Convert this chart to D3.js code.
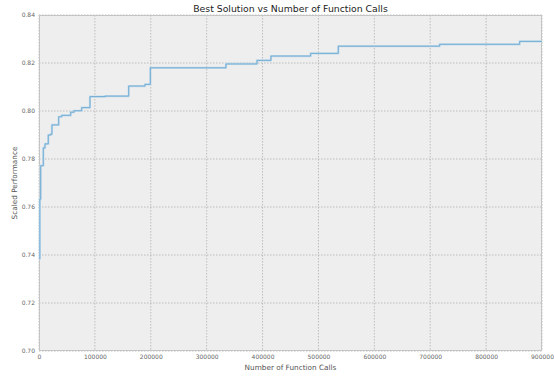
<!DOCTYPE html>
<html>
<head>
<meta charset="utf-8">
<script src="https://cdn.jsdelivr.net/npm/d3@7"></script>
<style>
  body { margin: 0; background: #fff; }
  text { font-family: "DejaVu Sans", sans-serif; }
</style>
</head>
<body>
<div id="viz"></div>
<script>
// number of function calls at which the best solution improved
var calls = [600, 1500, 3000, 7700, 10700, 16600, 21000, 23200, 35200, 40600, 56700, 62600, 76400,
  91200, 118000, 160500, 189600, 199200, 334500, 390000, 415000, 486000, 535500, 716800, 860000, 900000];
// best scaled performance after each improvement
var best = [0.7385, 0.7633, 0.7772, 0.7846, 0.7863, 0.7900, 0.7904, 0.7942, 0.7976, 0.7982, 0.7995, 0.8001, 0.8014,
  0.8060, 0.8062, 0.8104, 0.8111, 0.8180, 0.8196, 0.8211, 0.8229, 0.8240, 0.8270, 0.8278, 0.8290, 0.8290];
var xTicks = [0, 100000, 200000, 300000, 400000, 500000, 600000, 700000, 800000, 900000];
var yTicks = [0.70, 0.72, 0.74, 0.76, 0.78, 0.80, 0.82, 0.84];

var width = 554, height = 377;
var margin = {top: 15, right: 12, bottom: 26, left: 39};

var data = calls.map(function(c, i) { return {calls: c, best: best[i]}; });

var x = d3.scaleLinear()
  .domain([0, 900000])
  .range([margin.left, width - margin.right]);
var y = d3.scaleLinear()
  .domain([0.70, 0.84])
  .range([height - margin.bottom, margin.top]);

var svg = d3.select('#viz')
  .append('svg')
  .attr('width', width)
  .attr('height', height);

svg.append('rect')
  .attr('x', x(0))
  .attr('y', y(0.84))
  .attr('width', x(900000) - x(0))
  .attr('height', y(0.70) - y(0.84))
  .attr('fill', '#eeeeee');

// grid
svg.append('g')
  .selectAll('line')
  .data(xTicks)
  .join('line')
  .attr('x1', d => x(d)).attr('x2', d => x(d))
  .attr('y1', y(0.84)).attr('y2', y(0.70))
  .attr('stroke', '#b0b0b0')
  .attr('stroke-width', 0.8)
  .attr('stroke-dasharray', '1.5,1.5');
svg.append('g')
  .selectAll('line')
  .data(yTicks)
  .join('line')
  .attr('x1', x(0)).attr('x2', x(900000))
  .attr('y1', d => y(d)).attr('y2', d => y(d))
  .attr('stroke', '#b0b0b0')
  .attr('stroke-width', 0.8)
  .attr('stroke-dasharray', '1.5,1.5');

// frame
svg.append('rect')
  .attr('x', x(0) + 0.5)
  .attr('y', y(0.84) + 0.5)
  .attr('width', x(900000) - x(0) - 1)
  .attr('height', y(0.70) - y(0.84) - 1)
  .attr('fill', 'none')
  .attr('stroke', '#c4c4c4');

// axes
var xAxis = svg.append('g')
  .attr('transform', 'translate(0,' + (height - margin.bottom) + ')')
  .call(d3.axisBottom(x).tickValues(xTicks).tickSize(0).tickPadding(4).tickFormat(d3.format('d')));
var yAxis = svg.append('g')
  .attr('transform', 'translate(' + margin.left + ',0)')
  .call(d3.axisLeft(y).tickValues(yTicks).tickSize(0).tickPadding(4).tickFormat(d3.format('.2f')));
[xAxis, yAxis].forEach(function(a) {
  a.select('.domain').remove();
  a.selectAll('text')
    .attr('fill', '#666')
    .style('font-size', '6px');
});

var line = d3.line()
  .x(d => x(d.calls))
  .y(d => y(d.best))
  .curve(d3.curveStepAfter);

svg.append('path')
  .datum(data)
  .attr('fill', 'none')
  .attr('stroke', '#c3dbeb')
  .attr('stroke-width', 2.2)
  .attr('d', line);
svg.append('path')
  .datum(data)
  .attr('fill', 'none')
  .attr('stroke', '#6aa7d1')
  .attr('stroke-width', 0.9)
  .attr('d', line);

svg.append('text')
  .attr('x', (x(0) + x(900000)) / 2)
  .attr('y', 11.5)
  .attr('text-anchor', 'middle')
  .attr('fill', '#222')
  .style('font-size', '9.3px')
  .text('Best Solution vs Number of Function Calls');

svg.append('text')
  .attr('x', (x(0) + x(900000)) / 2)
  .attr('y', 370)
  .attr('text-anchor', 'middle')
  .attr('fill', '#555')
  .style('font-size', '7.3px')
  .text('Number of Function Calls');

svg.append('text')
  .attr('transform', 'translate(17,' + ((y(0.70) + y(0.84)) / 2) + ') rotate(-90)')
  .attr('text-anchor', 'middle')
  .attr('fill', '#555')
  .style('font-size', '7.3px')
  .text('Scaled Performance');
</script>
</body>
</html>
